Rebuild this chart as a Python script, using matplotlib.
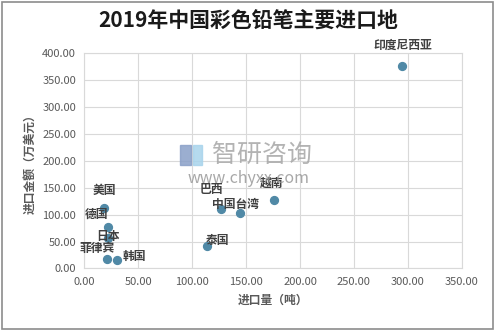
import matplotlib
matplotlib.use("Agg")
import matplotlib.pyplot as plt
from matplotlib.patches import Rectangle

plt.rcParams['font.family'] = ['Noto Sans CJK SC', 'DejaVu Sans']

# 2019 main import sources of colour pencils
countries = ['印度尼西亚', '越南', '巴西', '中国台湾', '泰国',
             '美国', '德国', '日本', '菲律宾', '韩国']
volume = [295.0, 176.0, 126.5, 144.5, 114.0, 18.5, 22.0, 21.5, 21.0, 30.5]      # 吨
amount = [376.0, 127.0, 110.0, 103.0, 41.0, 112.0, 77.0, 56.0, 17.0, 15.0]      # 万美元

# label offsets (points) relative to each marker
offsets = [(0, 15), (-2, 12), (-7, 14), (-3, 6), (7, 4),
           (0, 13), (-8, 9), (0, 1), (-7, 8), (12, 3)]

fig = plt.figure(figsize=(4.96, 3.31), dpi=100)
fig.patches.append(Rectangle((0.004, 0.006), 0.99, 0.988, transform=fig.transFigure,
                             fill=False, edgecolor='#8c8c8c', linewidth=1.2))

ax = fig.add_axes([0.170, 0.189, 0.761, 0.650])
ax.scatter(volume, amount, s=32, color='#5089a6', zorder=3)

for name, x, y, off in zip(countries, volume, amount, offsets):
    ax.annotate(name, (x, y), xytext=off, textcoords='offset points',
                ha='center', va='center', fontsize=8.5, fontweight='bold',
                color='#404040', zorder=4)

ax.set_xlim(0, 350)
ax.set_ylim(0, 400)
ax.set_xticks(range(0, 351, 50))
ax.set_yticks(range(0, 401, 50))
ax.set_xticklabels([f'{v:.2f}' for v in range(0, 351, 50)])
ax.set_yticklabels([f'{v:.2f}' for v in range(0, 401, 50)])
ax.tick_params(labelsize=8, colors='#595959', length=0, pad=6)
ax.grid(True, color='#d9d9d9', linewidth=0.8)
ax.set_axisbelow(True)
for s in ax.spines.values():
    s.set_color('#d9d9d9')
    s.set_linewidth(0.8)

ax.set_xlabel('进口量（吨）', fontsize=8.5, fontweight='bold', color='#595959', labelpad=5)
ax.set_ylabel('进口金额（万美元）', fontsize=8.5, fontweight='bold', color='#595959', labelpad=4)

fig.text(0.50, 0.935, '2019年中国彩色铅笔主要进口地', ha='center', va='center',
         fontsize=15, fontweight='bold', color='#1a1a1a')

# watermark: logo blocks, name and url
fig.patches.append(Rectangle((180 / 496, 1 - 165 / 331), 11 / 496, 20 / 331,
                             transform=fig.transFigure, color='#8aa0c8', alpha=0.85))
fig.patches.append(Rectangle((193 / 496, 1 - 165 / 331), 9 / 496, 20 / 331,
                             transform=fig.transFigure, color='#a8d4ec', alpha=0.85))
fig.text(0.528, 0.532, '智研咨询', ha='center', va='center', fontsize=18,
         color='#a6a6a6', alpha=0.85)
fig.text(0.501, 0.462, 'www.chyxx.com', ha='center', va='center', fontsize=11.5,
         color='#999999', alpha=0.85)

fig.savefig('out.png', dpi=100)
